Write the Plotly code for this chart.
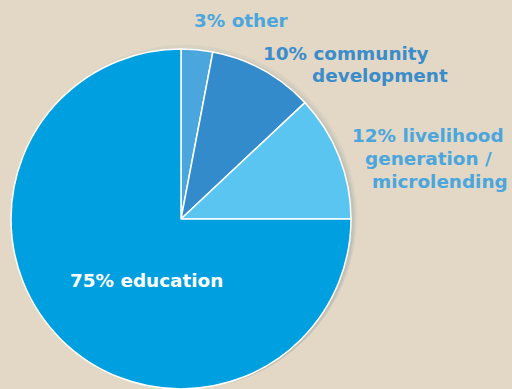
import plotly.graph_objects as go

categories = ["other", "community development", "livelihood generation / microlending", "education"]
values = [3, 10, 12, 75]
colors = ["#4BA6DD", "#348BCB", "#5BC5F2", "#00A0E0"]

W, H = 512, 389
# label lines: (text, left px, center y px, color)
label_lines = [
    ("3% other", 192, 21, "#4BA6DD"),
    ("10% community", 261, 53, "#3A8CCB"),
    ("development", 310, 75, "#3A8CCB"),
    ("12% livelihood", 350, 135, "#4BA6DD"),
    ("generation /", 363, 158, "#4BA6DD"),
    ("microlending", 370, 181, "#4BA6DD"),
    ("75% education", 68, 280, "#FFFFFF"),
]

cx, cy, r = 181, 219, 170


def dom(x0, y0, rad):
    return dict(x=[(x0 - rad) / W, (x0 + rad) / W],
                y=[max(0, 1 - (y0 + rad) / H), 1 - (y0 - rad) / H])


fig = go.Figure()
# soft shadow layers
for k, a in [(8, 0.05), (5, 0.07), (2, 0.09)]:
    fig.add_trace(go.Pie(values=[1], sort=False, textinfo="none", hoverinfo="skip",
                         showlegend=False, marker=dict(colors=[f"rgba(70,100,130,{a})"],
                                                       line=dict(width=0)),
                         domain=dict(x=[(cx + 4 - r - k) / W, (cx + 4 + r + k) / W],
                                     y=[0, 1 - (cy - r - k + 4) / H])))
fig.add_trace(go.Pie(
    labels=categories, values=values, sort=False, direction="clockwise", rotation=0,
    marker=dict(colors=colors, line=dict(color="#FFFFFF", width=1.5)),
    textinfo="none", hoverinfo="label+percent", showlegend=False,
    domain=dom(cx, cy, r),
))

for text, x, y, col in label_lines:
    fig.add_annotation(text=text, x=x / W, y=1 - y / H, xref="paper", yref="paper",
                       xanchor="left", yanchor="middle", showarrow=False,
                       font=dict(family="DejaVu Sans", size=18.4, color=col, weight="bold"))

fig.update_layout(width=W, height=H, margin=dict(l=0, r=0, t=0, b=0),
                  paper_bgcolor="#E2D8C5", plot_bgcolor="#E2D8C5")
fig.write_html("out.html")
